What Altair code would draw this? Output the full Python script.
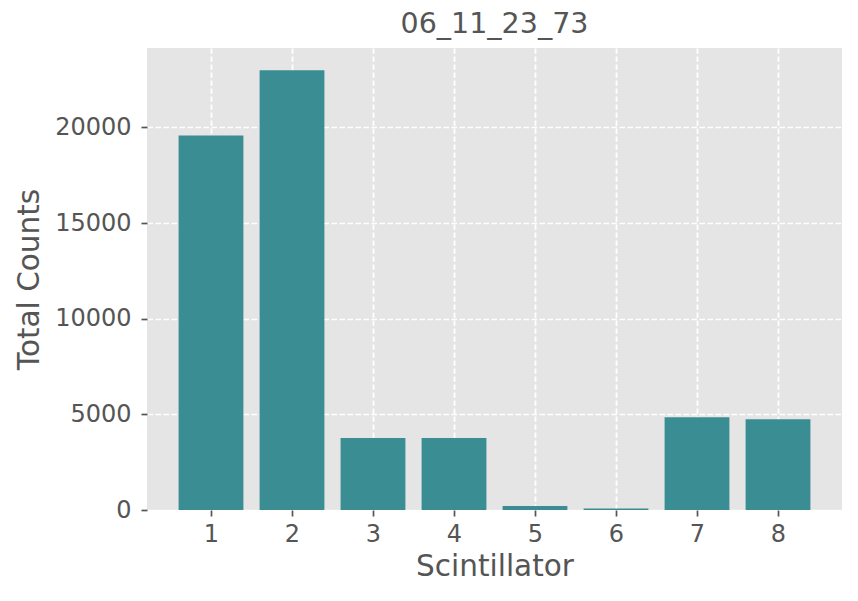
import altair as alt
import pandas as pd

scintillator = [1, 2, 3, 4, 5, 6, 7, 8]
total_counts = [19580, 22990, 3760, 3760, 210, 80, 4850, 4750]

df = pd.DataFrame({"Scintillator": scintillator, "Total Counts": total_counts})

TEXT = "#555555"
FONT = "DejaVu Sans"

chart = (
    alt.Chart(df)
    .transform_calculate(x0="datum.Scintillator - 0.4", x1="datum.Scintillator + 0.4")
    .mark_bar(color="#3A8D92")
    .encode(
        x=alt.X(
            "x0:Q",
            scale=alt.Scale(domain=[0.21, 8.79], nice=False, zero=False),
            axis=alt.Axis(values=scintillator, title="Scintillator", format="d"),
        ),
        x2="x1:Q",
        y=alt.Y(
            "Total Counts:Q",
            scale=alt.Scale(domain=[0, 24150], nice=False),
            axis=alt.Axis(values=[0, 5000, 10000, 15000, 20000], title="Total Counts", format="d"),
        ),
        y2=alt.datum(0),
    )
    .properties(
        width=695,
        height=462,
        title=alt.TitleParams("06_11_23_73", fontSize=28.5, font=FONT, color=TEXT, fontWeight="normal", offset=10),
        autosize=alt.AutoSizeParams(type="none"),
        padding={"left": 139, "top": 40, "right": 8, "bottom": 83},
    )
    .configure_view(fill="#E5E5E5", stroke=None)
    .configure_axis(
        domain=False,
        grid=True,
        gridColor="white",
        gridDash=[5.5, 2.5],
        gridWidth=1.7,
        tickColor=TEXT,
        tickSize=6,
        tickWidth=1.7,
        labelFont=FONT,
        labelFontSize=24,
        labelColor=TEXT,
        labelPadding=6,
        titleFont=FONT,
        titleFontSize=29.5,
        titleColor=TEXT,
        titleFontWeight="normal",
    )
    .configure_axisY(titlePadding=10, labelPadding=10)
    .configure_axisX(titlePadding=6)
)

chart.save("out.html", embed_options={"renderer": "svg", "actions": False})
